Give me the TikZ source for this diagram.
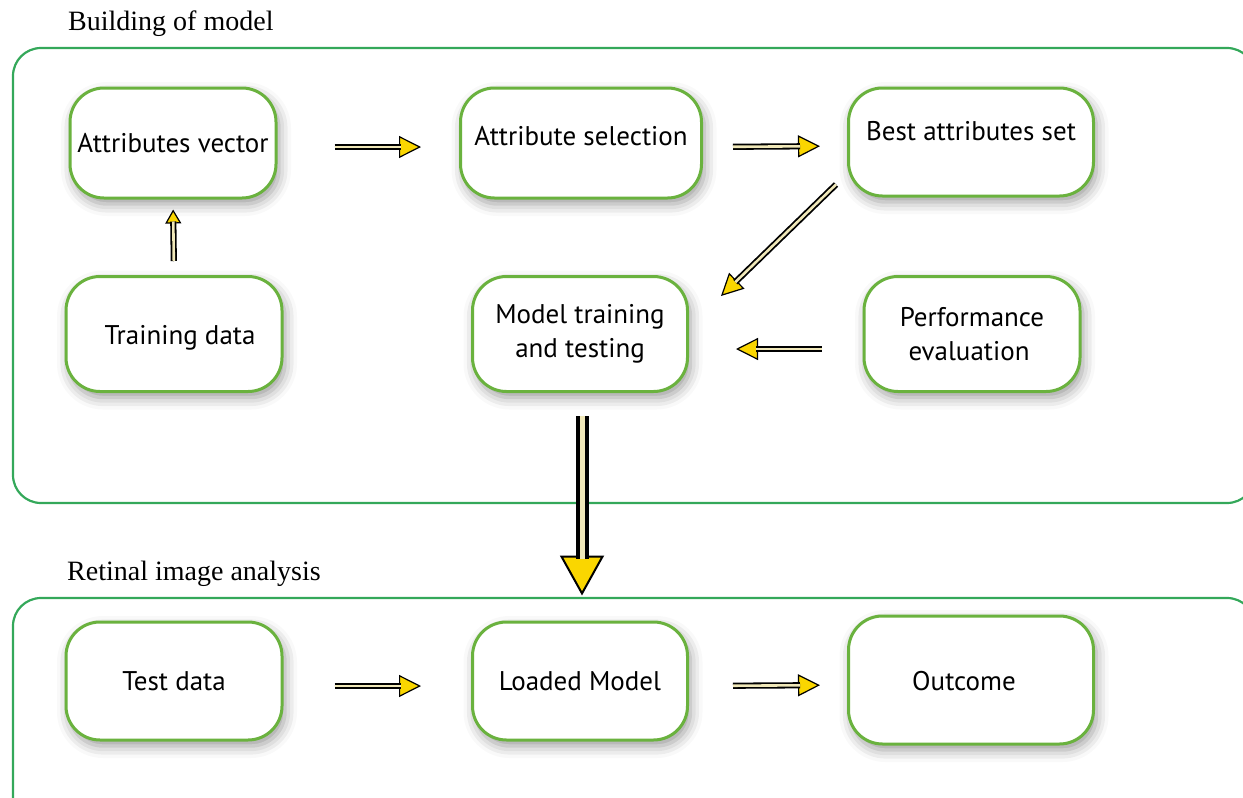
\documentclass[tikz,border=0pt]{standalone}
\usepackage{fontspec}
\setmainfont{Liberation Serif}
\newfontfamily\boxfont{PT Sans}
\usetikzlibrary{arrows.meta,shadows.blur,calc}
\definecolor{nodegreen}{RGB}{106,178,62}
\definecolor{framegreen}{RGB}{52,168,90}
\definecolor{tipyellow}{RGB}{250,214,0}
\definecolor{shaftcream}{RGB}{240,232,185}
\newcommand\up[2]{\raisebox{#1}[0.75em][0.2em]{#2}}
\tikzset{
  box/.style={draw=nodegreen, line width=3pt, rounded corners=34pt, fill=white,
    align=center, inner sep=0pt, font=\boxfont\fontsize{27}{34}\selectfont,
    blur shadow={shadow xshift=3pt, shadow yshift=-6pt, shadow blur radius=12pt, shadow opacity=40}},
  frame/.style={draw=framegreen, line width=2.2pt, rounded corners=28pt},
  title/.style={font=\fontsize{28}{30}\selectfont, anchor=west, inner sep=0pt},
  ytip/.style={draw=black, line width=1.2pt, -{Triangle[length=22pt,width=22pt,fill=tipyellow,line width=1.2pt]}},
  stip/.style={draw=black, line width=1.2pt, -{Triangle[length=14pt,width=16pt,fill=tipyellow,line width=1.2pt]}},
  yshaft/.style={draw=black, line width=1.8pt, double=shaftcream, double distance=2.6pt},
  bigtip/.style={draw=black, line width=2pt, -{Triangle[length=40pt,width=44pt,fill=tipyellow,line width=2pt]}},
  bigshaft/.style={draw=black, line width=4pt, double=shaftcream, double distance=5pt},
}
\begin{document}
\begin{tikzpicture}[x=1pt,y=-1pt]
\useasboundingbox (0,0) rectangle (1243,798);
\begin{scope}
  \clip (0,0) rectangle (1243,798);
  \draw[frame] (13,48) rectangle (1255,503);
  \draw[frame] (13,598) rectangle (1255,840);
\end{scope}
\node[title] (t1) at (68,24) {Building of model};
\node[title] (t2) at (67,574) {Retinal image analysis};

\node[box, minimum width=206pt, minimum height=110pt] (av) at (173,143) {Attributes vector};
\node[box, minimum width=241pt, minimum height=110pt] (as) at (581,143) {\up{5pt}{Attribute selection}};
\node[box, minimum width=245pt, minimum height=108pt] (bs) at (971,142) {\up{9pt}{Best attributes set}};
\node[box, minimum width=216pt, minimum height=115pt] (td) at (174,334) {\hspace*{12pt}\up{-3pt}{Training data}};
\node[box, minimum width=215pt, minimum height=115pt] (mt) at (580,334) {Model training\\and testing};
\node[box, minimum width=216pt, minimum height=115pt] (pe) at (972,334) {Performance\\evaluation\hspace*{6pt}};
\node[box, minimum width=216pt, minimum height=118pt] (te) at (174,681) {Test data};
\node[box, minimum width=215pt, minimum height=118pt] (ld) at (580,681) {Loaded Model};
\node[box, minimum width=245pt, minimum height=128pt] (oc) at (971,680) {\up{-3pt}{Outcome}\hspace*{14pt}};

% Attributes vector -> Attribute selection
\draw[ytip, shorten <=57pt, shorten >=38pt] ([yshift=-4pt]av.east) -- ([yshift=-4pt]as.west);
\draw[yshaft, shorten <=57pt, shorten >=58pt] ([yshift=-4pt]av.east) -- ([yshift=-4pt]as.west);
% Attribute selection -> Best attributes set
\draw[ytip, shorten <=30pt, shorten >=27pt] ([yshift=-4pt]as.east) -- ([yshift=-4pt]bs.west);
\draw[yshaft, shorten <=30pt, shorten >=47pt] ([yshift=-4pt]as.east) -- ([yshift=-4pt]bs.west);
% Best attributes set -> Model training
\coordinate (d1) at ([shift={(-11pt,13pt)}]bs.south west);
\coordinate (d2) at ([shift={(32pt,-21pt)}]mt.north east);
\draw[ytip] (d1) -- (d2);
\draw[yshaft, shorten >=20pt] (d1) -- (d2);
% Training data -> Attributes vector
\draw[stip, shorten <=14pt, shorten >=10pt] (td.north) -- (av.south);
\draw[yshaft, shorten <=14pt, shorten >=22pt] (td.north) -- (av.south);
% Performance evaluation -> Model training
\draw[ytip, shorten <=41pt, shorten >=47pt] ([yshift=-15pt]pe.west) -- ([yshift=-15pt]mt.east);
\draw[yshaft, shorten <=41pt, shorten >=67pt] ([yshift=-15pt]pe.west) -- ([yshift=-15pt]mt.east);
% Model training -> Loaded Model
\draw[bigtip, shorten <=23pt, shorten >=25pt] ([xshift=2pt]mt.south) -- ([xshift=2pt]ld.north);
\draw[bigshaft, shorten <=23pt, shorten >=62pt] ([xshift=2pt]mt.south) -- ([xshift=2pt]ld.north);
% Test data -> Loaded Model
\draw[ytip, shorten <=51pt, shorten >=50pt] ([yshift=-5pt]te.east) -- ([yshift=-5pt]ld.west);
\draw[yshaft, shorten <=51pt, shorten >=70pt] ([yshift=-5pt]te.east) -- ([yshift=-5pt]ld.west);
% Loaded Model -> Outcome
\draw[ytip, shorten <=44pt, shorten >=27pt] ([yshift=-5pt]ld.east) -- ([yshift=-5pt]oc.west);
\draw[yshaft, shorten <=44pt, shorten >=47pt] ([yshift=-5pt]ld.east) -- ([yshift=-5pt]oc.west);
\end{tikzpicture}
\end{document}
